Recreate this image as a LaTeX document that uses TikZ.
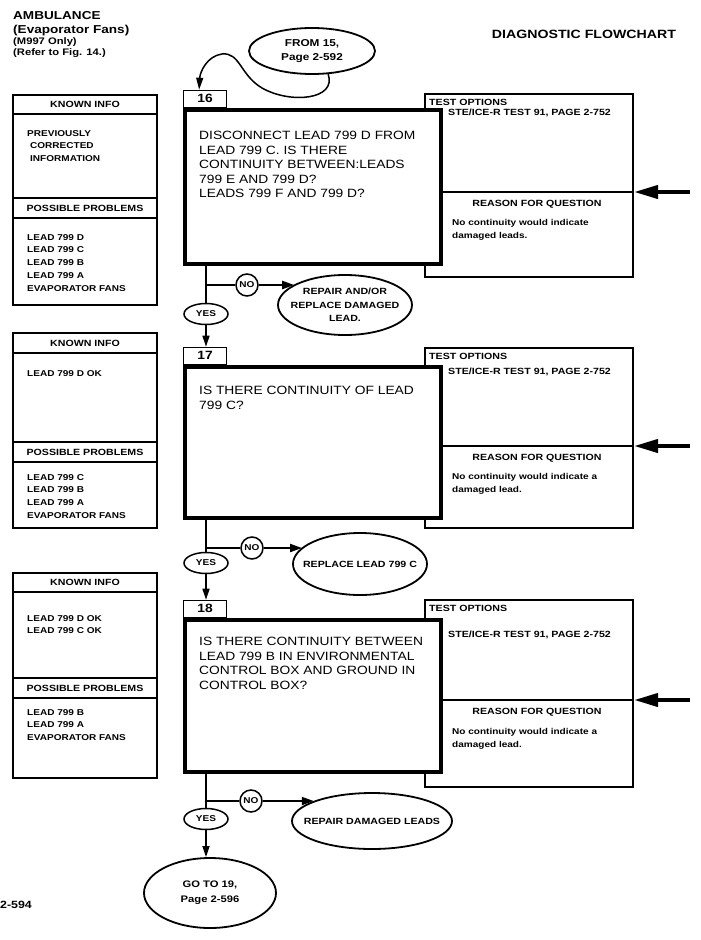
\documentclass[tikz,border=0pt]{standalone}
\usepackage{fontspec}
\setmainfont[FakeStretch=1.18]{Liberation Sans}
\newfontfamily\qfont[FakeStretch=1.15]{Liberation Sans}
\usetikzlibrary{arrows.meta,shapes.geometric}

\begin{document}
\begin{tikzpicture}[x=1pt,y=-1pt,
    infoline/.style={line width=1.2pt},
    qbox/.style={draw, line width=4pt, fill=white, minimum width=256pt, inner sep=0pt},
    tabbox/.style={draw, line width=1.3pt, fill=white, minimum width=43pt, minimum height=17pt, inner sep=0pt, anchor=south west, font=\qfont\bfseries\fontsize{12}{12}\selectfont},
    hdr/.style={inner sep=0pt, font=\bfseries\fontsize{9}{11}\selectfont},
    listtxt/.style={inner sep=0pt, anchor=north west, align=left, font=\bfseries\fontsize{8.5}{12.8}\selectfont},
    qtxt/.style={inner sep=0pt, anchor=north west, align=left, font=\qfont\fontsize{12}{14.5}\selectfont},
    oval/.style={draw, ellipse, line width=1.8pt, fill=white, inner xsep=-40pt, inner ysep=-15pt, align=center, font=\bfseries\fontsize{9}{13.5}\selectfont},
    yesoval/.style={draw, ellipse, line width=1.5pt, fill=white, minimum width=44pt, minimum height=21pt, inner sep=0pt, font=\bfseries\fontsize{8.5}{10}\selectfont},
    nocirc/.style={draw, circle, line width=1.5pt, fill=white, minimum size=22pt, inner sep=0pt, font=\bfseries\fontsize{8.5}{10}\selectfont},
    flowline/.style={line width=1.5pt},
    yesarrow/.style={flowline, -{Triangle[length=11pt,width=7pt]}},
    noarrow/.style={line width=2pt, -{Triangle[length=12pt,width=8pt]}},
    bigarrow/.style={line width=4pt, -{Triangle[length=24pt,width=13pt]}}]

    \fill[white] (0,0) rectangle (701,940);
    \useasboundingbox (0,0) rectangle (701,940);

    % page heading
    \node[anchor=base west, inner sep=0pt, font=\bfseries\fontsize{11.5}{13}\selectfont] (amb) at (13,19) {AMBULANCE};
    \node[anchor=base west, inner sep=0pt, font=\bfseries\fontsize{11.5}{13}\selectfont] (evap) at (13,33) {(Evaporator Fans)};
    \node[anchor=base west, inner sep=0pt, font=\bfseries\fontsize{9.5}{11}\selectfont] (m997) at (13,44) {(M997 Only)};
    \node[anchor=base west, inner sep=0pt, font=\bfseries\fontsize{9.5}{11}\selectfont] (refer) at (13,55) {(Refer to Fig. 14.)};
    \node[anchor=base, inner sep=0pt, font=\bfseries\fontsize{12}{13}\selectfont] (title) at (584,38) {DIAGNOSTIC FLOWCHART};

    % known info / possible problems frames
    \foreach \tp/\kl/\pa/\pb/\bt in {95/114/198/218/305, 333/353/442/462/528, 573/592/678/698/778} {
        \draw[infoline] (13,\tp) rectangle (157,\bt);
        \draw[infoline] (13,\kl) -- (157,\kl) (13,\pa) -- (157,\pa) (13,\pb) -- (157,\pb);
        \node[hdr] (known\tp) at (85,{(\tp+\kl)/2}) {KNOWN INFO};
        \node[hdr] (poss\tp) at (85,{(\pa+\pb)/2}) {POSSIBLE PROBLEMS};
    }
    \node[listtxt] (kn16) at (27,130) {PREVIOUSLY\\\hspace*{3pt}CORRECTED\\\hspace*{3pt}INFORMATION};
    \node[listtxt] (pp16) at (27,234) {LEAD 799 D\\LEAD 799 C\\LEAD 799 B\\LEAD 799 A\\EVAPORATOR FANS};
    \node[listtxt] (kn17) at (27,370) {LEAD 799 D OK};
    \node[listtxt] (pp17) at (27,474) {LEAD 799 C\\LEAD 799 B\\LEAD 799 A\\EVAPORATOR FANS};
    \node[listtxt] (kn18) at (27,615) {LEAD 799 D OK\\LEAD 799 C OK};
    \node[listtxt] (pp18) at (27,709) {LEAD 799 B\\LEAD 799 A\\EVAPORATOR FANS};

    % test options / reason frames
    \foreach \tp/\dv/\bt in {94/192/277, 348/446/528, 600/700/787} {
        \draw[infoline, fill=white] (425,\tp) rectangle (633,\bt);
        \draw[infoline] (425,\dv) -- (633,\dv);
        \node[hdr, anchor=west] (opt\tp) at (429,{\tp+8}) {TEST OPTIONS};
        \node[hdr] (reason\tp) at (537,{\dv+12}) {REASON FOR QUESTION};
        \coordinate (in\dv) at (690,\dv);
        \coordinate (dv\dv) at (634,\dv);
        \draw[bigarrow] (in\dv) -- (dv\dv);
    }
    \node[hdr, anchor=west] (ste16) at (448,113) {STE/ICE-R TEST 91, PAGE 2-752};
    \node[hdr, anchor=west] (ste17) at (448,372) {STE/ICE-R TEST 91, PAGE 2-752};
    \node[hdr, anchor=west] (ste18) at (448,635) {STE/ICE-R TEST 91, PAGE 2-752};
    \node[listtxt] (why16) at (452,219) {No continuity would indicate\\damaged leads.};
    \node[listtxt] (why17) at (452,473) {No continuity would indicate a\\damaged lead.};
    \node[listtxt] (why18) at (452,728) {No continuity would indicate a\\damaged lead.};

    % question boxes
    \node[qbox, minimum height=154pt] (q16) at (313,187) {};
    \node[qbox, minimum height=151pt] (q17) at (313,442.5) {};
    \node[qbox, minimum height=152pt] (q18) at (313,696) {};
    \node[tabbox] (t16) at (q16.north west) {16};
    \node[tabbox] (t17) at (q17.north west) {17};
    \node[tabbox] (t18) at (q18.north west) {18};
    \node[qtxt] (q16txt) at (199,131) {DISCONNECT LEAD 799 D FROM\\LEAD 799 C. IS THERE\\CONTINUITY BETWEEN:LEADS\\799 E AND 799 D?\\LEADS 799 F AND 799 D?};
    \node[qtxt] (q17txt) at (199,386) {IS THERE CONTINUITY OF LEAD\\799 C?};
    \node[qtxt] (q18txt) at (199,637) {IS THERE CONTINUITY BETWEEN\\LEAD 799 B IN ENVIRONMENTAL\\CONTROL BOX AND GROUND IN\\CONTROL BOX?};

    % entry
    \node[oval, minimum width=126pt, minimum height=46pt, font=\bfseries\fontsize{10}{13.5}\selectfont] (from15) at (312,51) {FROM 15,\\Page 2-592};
    \draw[flowline, -{Triangle[length=12pt,width=7pt]}] (from15.-55) .. controls (337,100) and (290,104) .. (262,88)
        .. controls (240,75) and (240,52) .. (222,54) .. controls (207,56) and (200,72) .. ([xshift=-6pt]t16.north);

    % answers
    \node[yesoval] (yes16) at (206,314) {YES};
    \node[nocirc] (no16) at (247,285) {NO};
    \node[oval, minimum width=134pt, minimum height=60pt] (rep16) at (345,305) {REPAIR AND/OR\\REPLACE DAMAGED\\LEAD.};
    \node[yesoval] (yes17) at (206,563) {YES};
    \node[nocirc] (no17) at (252,548) {NO};
    \node[oval, minimum width=134pt, minimum height=62pt] (rep17) at (360,564) {REPLACE LEAD 799 C};
    \node[yesoval] (yes18) at (206,819) {YES};
    \node[nocirc] (no18) at (251,801) {NO};
    \node[oval, minimum width=160pt, minimum height=56pt] (rep18) at (372,821) {REPAIR DAMAGED LEADS};
    \node[oval, minimum width=132pt, minimum height=70pt, font=\bfseries\fontsize{9.5}{15}\selectfont] (go19) at (210,893) {GO TO 19,\\Page 2-596};

    \draw[flowline] (q16.south -| yes16) -- (yes16);
    \draw[flowline] (no16 -| yes16) -- (no16);
    \draw[noarrow] (no16) -- (no16 -| rep16.158);
    \draw[yesarrow] (yes16) -- (t17.north -| yes16);

    \draw[flowline] (q17.south -| yes17) -- (yes17);
    \draw[flowline] (no17 -| yes17) -- (no17);
    \draw[noarrow] (no17) -- (no17 -| rep17.164);
    \draw[yesarrow] (yes17) -- (t18.north -| yes17);

    \draw[flowline] (q18.south -| yes18) -- (yes18);
    \draw[flowline] (no18 -| yes18) -- (no18);
    \draw[noarrow] (no18) -- (no18 -| rep18.161);
    \draw[yesarrow] (yes18) -- (go19.north -| yes18);

    \node[anchor=west, inner sep=0pt, font=\bfseries\fontsize{10.5}{12}\selectfont] (page) at (0,905) {2-594};
\end{tikzpicture}
\end{document}
